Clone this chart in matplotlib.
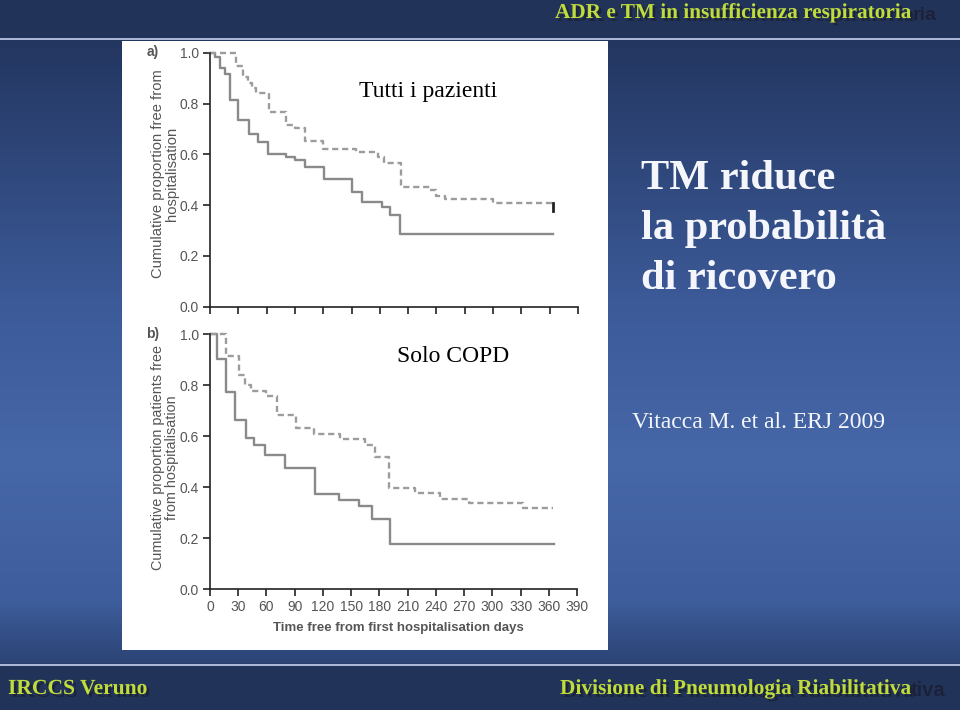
import numpy as np
import matplotlib.pyplot as plt
import matplotlib.patheffects as pe
from matplotlib.patches import Rectangle

plt.rcParams['font.family'] = ['Liberation Sans', 'DejaVu Sans']

# panel a) all patients: days and cumulative proportion free from hospitalisation
a_ctrl_days = [0, 5, 11, 16, 21, 30, 41, 51, 61, 81, 90, 101, 121, 150, 161, 182, 191, 201, 363]
a_ctrl_surv = [1.0, 0.984, 0.939, 0.915, 0.814, 0.735, 0.679, 0.647, 0.601, 0.588, 0.578,
               0.551, 0.503, 0.450, 0.411, 0.391, 0.361, 0.288, 0.288]
a_tm_days = [0, 28, 35, 40, 45, 49, 62, 81, 90, 101, 120, 155, 178, 184, 202, 233, 240, 249, 300, 364]
a_tm_surv = [1.0, 0.949, 0.906, 0.880, 0.860, 0.840, 0.765, 0.715, 0.702, 0.652, 0.621,
             0.608, 0.590, 0.565, 0.472, 0.459, 0.436, 0.424, 0.407, 0.407]
a_censor = (364, 0.407, 0.375)

# panel b) COPD only
b_ctrl_days = [0, 7, 17, 27, 38, 47, 58, 80, 112, 137, 158, 172, 191, 366]
b_ctrl_surv = [1.0, 0.904, 0.774, 0.665, 0.593, 0.567, 0.525, 0.476, 0.375, 0.350, 0.325,
               0.277, 0.176, 0.176]
b_tm_days = [0, 17, 31, 37, 44, 60, 71, 91, 110, 138, 165, 175, 190, 218, 244, 275, 333, 364]
b_tm_surv = [1.0, 0.914, 0.840, 0.802, 0.779, 0.757, 0.684, 0.633, 0.608, 0.589, 0.567,
             0.518, 0.397, 0.379, 0.355, 0.337, 0.320, 0.320]

x_ticks = list(range(0, 391, 30))
y_ticks = [0.0, 0.2, 0.4, 0.6, 0.8, 1.0]

W, H = 960, 710


def fx(px):
    return px / W


def fy(py):
    return 1 - py / H


fig = plt.figure(figsize=(9.6, 7.1), dpi=100)

# slide background: vertical blue gradient
bg = fig.add_axes([0, 0, 1, 1], zorder=0)
bg.set_axis_off()
stops_y = [0, 38, 40, 300, 460, 600, 662, 666, 710]
stops_c = np.array([[0x22, 0x33, 0x5a], [0x22, 0x33, 0x5a], [0x23, 0x36, 0x60],
                    [0x3c, 0x5a, 0x98], [0x46, 0x67, 0xa8], [0x3e, 0x5d, 0x9c],
                    [0x2c, 0x44, 0x76], [0x22, 0x33, 0x5a], [0x22, 0x33, 0x5a]]) / 255
rows = np.arange(H)
img = np.stack([np.interp(rows, stops_y, stops_c[:, k]) for k in range(3)], axis=1)
bg.imshow(img[:, None, :], aspect='auto', extent=[0, W, H, 0])
bg.set_xlim(0, W)
bg.set_ylim(H, 0)
bg.axhline(38.5, color='#b9c5e2', lw=1.3)
bg.axhline(664.5, color='#b9c5e2', lw=1.3)
# white figure panel
bg.add_patch(Rectangle((122, 41), 486, 609, facecolor='white', edgecolor='none'))

ink = '#222222'
grey_txt = '#555555'


def km_axes(rect, show_xlabels):
    ax = fig.add_axes(rect, zorder=2)
    ax.set_facecolor('none')
    ax.set_xlim(0, 390)
    ax.set_ylim(0, 1.0)
    for s in ['top', 'right']:
        ax.spines[s].set_visible(False)
    for s in ['left', 'bottom']:
        ax.spines[s].set_color(ink)
        ax.spines[s].set_linewidth(1.2)
    ax.set_xticks(x_ticks)
    ax.set_yticks(y_ticks)
    ax.set_yticklabels([f'{v:.1f}' for v in y_ticks])
    if not show_xlabels:
        ax.set_xticklabels([])
    ax.tick_params(direction='out', length=5, width=1.2, color=ink, labelcolor=grey_txt,
                   labelsize=10, pad=3)
    return ax


def draw_curves(ax, cd, cs, td, ts):
    ax.step(cd, cs, where='post', color='#8a8a8a', lw=1.7, clip_on=False)
    ax.step(td, ts, where='post', color='#9c9c9c', lw=1.7, linestyle=(0, (2.6, 1.6)),
            clip_on=False)


ax_a = km_axes([fx(210), fy(306.7), fx(368), 254 / H], False)
draw_curves(ax_a, a_ctrl_days, a_ctrl_surv, a_tm_days, a_tm_surv)
ax_a.plot([a_censor[0], a_censor[0]], [a_censor[1], a_censor[2]], color=ink, lw=2, clip_on=False)

ax_b = km_axes([fx(210), fy(589.3), fx(367), 255 / H], True)
draw_curves(ax_b, b_ctrl_days, b_ctrl_surv, b_tm_days, b_tm_surv)

# axis labels
fig.text(fx(165), fy(174), 'Cumulative proportion free from\nhospitalisation', rotation=90,
         ha='center', va='center', fontsize=10.6, color=grey_txt, linespacing=0.95, zorder=3)
fig.text(fx(165), fy(458), 'Cumulative proportion patients free\nfrom hospitalisation', rotation=90,
         ha='center', va='center', fontsize=10.4, color=grey_txt, linespacing=0.95, zorder=3)
fig.text(fx(398), fy(628), 'Time free from first hospitalisation days', ha='center', va='center',
         fontsize=9.5, color=grey_txt, fontweight='bold', zorder=3)
fig.text(fx(153), fy(52), 'a)', ha='center', va='center', fontsize=10, color=grey_txt,
         fontweight='bold', zorder=3)
fig.text(fx(153), fy(334), 'b)', ha='center', va='center', fontsize=10, color=grey_txt,
         fontweight='bold', zorder=3)

serif = 'Liberation Serif'
fig.text(fx(428), fy(92), 'Tutti i pazienti', ha='center', va='center', fontsize=17,
         family=serif, color='black', zorder=3)
fig.text(fx(453), fy(356), 'Solo COPD', ha='center', va='center', fontsize=17,
         family=serif, color='black', zorder=3)

# right hand message
for txt, py in [('TM riduce', 179), ('la probabilità', 229), ('di ricovero', 279)]:
    fig.text(fx(641), fy(py), txt, ha='left', va='center', fontsize=30.5, family=serif,
             fontweight='bold', color='#f4f6fb', zorder=3)
fig.text(fx(632), fy(423), 'Vitacca M. et al. ERJ 2009', ha='left', va='center', fontsize=17,
         family=serif, color='#f4f6fb', zorder=3)

# header and footer, lime text with dark drop shadow
lime = '#c0dc3c'
shadow = '#1b2238'
drop = [pe.withSimplePatchShadow(offset=(2, -2), shadow_rgbFace=shadow, alpha=0.9)]
fig.text(fx(555), fy(13), 'ADR e TM in insufficienza respiratoria', ha='left', va='center',
         fontsize=15.3, family=serif, fontweight='bold', color=lime, zorder=3, path_effects=drop)
fig.text(fx(913), fy(15), 'ria', ha='left', va='center', fontsize=14,
         fontweight='bold', color=shadow, zorder=2)
fig.text(fx(8), fy(689), 'IRCCS Veruno', ha='left', va='center', fontsize=15.5, family=serif,
         fontweight='bold', color=lime, zorder=3, path_effects=drop)
fig.text(fx(560), fy(689), 'Divisione di Pneumologia Riabilitativa', ha='left', va='center',
         fontsize=15.4, family=serif, fontweight='bold', color=lime, zorder=3, path_effects=drop)
fig.text(fx(911), fy(691), 'tiva', ha='left', va='center', fontsize=14.5,
         fontweight='bold', color=shadow, zorder=2)

fig.savefig('out.png', dpi=100)
